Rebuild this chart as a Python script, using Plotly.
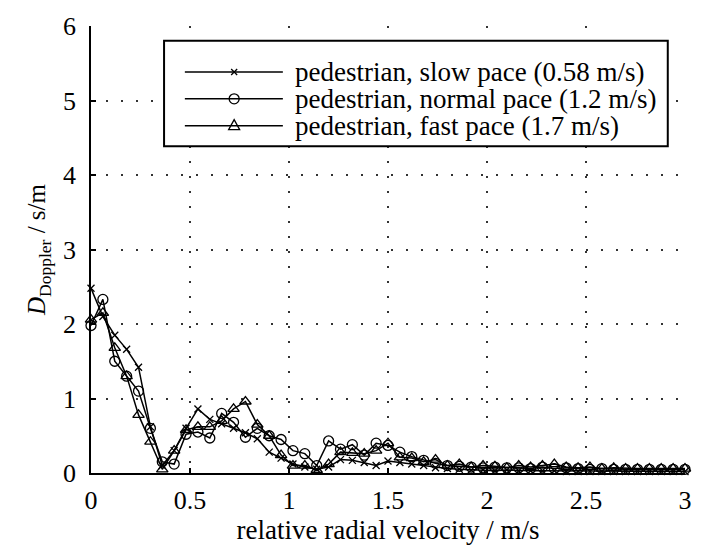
import plotly.graph_objects as go

velocity = [0.00, 0.06, 0.12, 0.18, 0.24, 0.30, 0.36, 0.42, 0.48, 0.54,
            0.60, 0.66, 0.72, 0.78, 0.84, 0.90, 0.96, 1.02, 1.08, 1.14,
            1.20, 1.26, 1.32, 1.38, 1.44, 1.50, 1.56, 1.62, 1.68, 1.74,
            1.80, 1.86, 1.92, 1.98, 2.04, 2.10, 2.16, 2.22, 2.28, 2.34,
            2.40, 2.46, 2.52, 2.58, 2.64, 2.70, 2.76, 2.82, 2.88, 2.94, 3.00]

slow = [2.48, 2.10, 1.85, 1.66, 1.42, 0.62, 0.10, 0.30, 0.60, 0.86,
        0.72, 0.66, 0.60, 0.54, 0.46, 0.28, 0.20, 0.12, 0.08, 0.05,
        0.08, 0.18, 0.17, 0.14, 0.10, 0.16, 0.14, 0.12, 0.10, 0.07,
        0.06, 0.05, 0.04, 0.04, 0.03, 0.04, 0.03, 0.03, 0.03, 0.03,
        0.02, 0.02, 0.02, 0.02, 0.02, 0.02, 0.02, 0.02, 0.02, 0.02, 0.02]

normal = [1.98, 2.33, 1.50, 1.30, 1.10, 0.60, 0.15, 0.12, 0.52, 0.55,
          0.47, 0.80, 0.68, 0.48, 0.60, 0.50, 0.45, 0.30, 0.26, 0.10,
          0.43, 0.32, 0.38, 0.24, 0.40, 0.37, 0.28, 0.22, 0.17, 0.13,
          0.10, 0.09, 0.08, 0.07, 0.08, 0.07, 0.07, 0.06, 0.08, 0.06,
          0.07, 0.06, 0.05, 0.06, 0.05, 0.05, 0.05, 0.05, 0.05, 0.05, 0.05]

fast = [2.06, 2.15, 1.68, 1.30, 0.78, 0.42, 0.05, 0.30, 0.58, 0.62,
        0.62, 0.70, 0.86, 0.96, 0.65, 0.50, 0.24, 0.10, 0.10, 0.04,
        0.12, 0.28, 0.27, 0.26, 0.30, 0.40, 0.21, 0.20, 0.15, 0.18,
        0.10, 0.12, 0.08, 0.10, 0.09, 0.07, 0.10, 0.08, 0.10, 0.12,
        0.08, 0.07, 0.08, 0.06, 0.07, 0.06, 0.06, 0.06, 0.06, 0.06, 0.06]

series_names = ["pedestrian, slow pace (0.58 m/s)",
                "pedestrian, normal pace (1.2 m/s)",
                "pedestrian, fast pace (1.7 m/s)"]

FONT = "Liberation Serif, Times New Roman, serif"
LW = 1.5

fig = go.Figure()
specs = [(slow, "x-thin-open", 7), (normal, "circle-open", 10), (fast, "triangle-up-open", 10)]
for (vals, sym, sz), name in zip(specs, series_names):
    fig.add_trace(go.Scatter(
        x=velocity, y=vals, mode="lines+markers", name=name, showlegend=False,
        line=dict(color="black", width=LW),
        marker=dict(symbol=sym, size=sz, color="black", line=dict(color="black", width=1.3)),
        cliponaxis=False,
    ))

# custom legend (box + samples + text), paper coordinates
shapes = [dict(type="rect", xref="paper", yref="paper", x0=0.123, x1=0.971, y0=0.731, y1=0.967,
               fillcolor="white", line=dict(color="black", width=2), layer="above")]
rows_y = [0.897, 0.837, 0.777]
lx0, lx1, lxm = 0.158, 0.323, 0.241
annotations = []
for i, (ry, name) in enumerate(zip(rows_y, series_names)):
    shapes.append(dict(type="line", xref="paper", yref="paper", x0=lx0, x1=lx1, y0=ry, y1=ry,
                       line=dict(color="black", width=LW), layer="above"))
    if i == 0:
        shapes.append(dict(type="path", xref="paper", yref="paper", xsizemode="pixel", ysizemode="pixel",
                           xanchor=lxm, yanchor=ry, path="M-3,-3 L3,3 M-3,3 L3,-3",
                           line=dict(color="black", width=1.3), layer="above"))
    elif i == 1:
        shapes.append(dict(type="circle", xref="paper", yref="paper", xsizemode="pixel", ysizemode="pixel",
                           xanchor=lxm, yanchor=ry, x0=-5, x1=5, y0=-5, y1=5,
                           line=dict(color="black", width=1.3), layer="above"))
    else:
        shapes.append(dict(type="path", xref="paper", yref="paper", xsizemode="pixel", ysizemode="pixel",
                           xanchor=lxm, yanchor=ry, path="M-5.5,-4 L5.5,-4 L0,6 Z",
                           line=dict(color="black", width=1.3), layer="above"))
    annotations.append(dict(xref="paper", yref="paper", x=0.34, y=ry, xanchor="left", yanchor="middle",
                            text=name, showarrow=False, font=dict(family=FONT, size=27, color="black")))

fig.update_layout(
    width=704, height=553,
    margin=dict(l=91, r=19, t=15, b=80),
    paper_bgcolor="white", plot_bgcolor="white",
    font=dict(family=FONT, size=26, color="black"),
    shapes=shapes, annotations=annotations,
    showlegend=False,
)
fig.update_xaxes(
    range=[0, 3], tickvals=[0, 0.5, 1, 1.5, 2, 2.5, 3], ticktext=["0", "0.5", "1", "1.5", "2", "2.5", "3"],
    tickfont=dict(family=FONT, size=26),
    showline=True, linecolor="black", linewidth=LW, mirror=False,
    ticks="inside", ticklen=5, tickwidth=LW, tickcolor="black", ticklabelstandoff=3,
    showgrid=True, gridcolor="#333333", gridwidth=1.5, griddash="2px,13px", zeroline=False,
    title=dict(text="relative radial velocity / m/s", font=dict(family=FONT, size=27), standoff=2),
)
fig.update_yaxes(
    range=[0, 6], tickvals=[0, 1, 2, 3, 4, 5, 6],
    tickfont=dict(family=FONT, size=26),
    showline=True, linecolor="black", linewidth=LW, mirror=False,
    ticks="inside", ticklen=5, tickwidth=LW, tickcolor="black", ticklabelstandoff=8,
    showgrid=True, gridcolor="#333333", gridwidth=1.5, griddash="2px,13px", zeroline=False,
    title=dict(text="<i>D</i><sub>Doppler</sub> / s/m", font=dict(family=FONT, size=25), standoff=10),
)

fig.write_html("out.html")
